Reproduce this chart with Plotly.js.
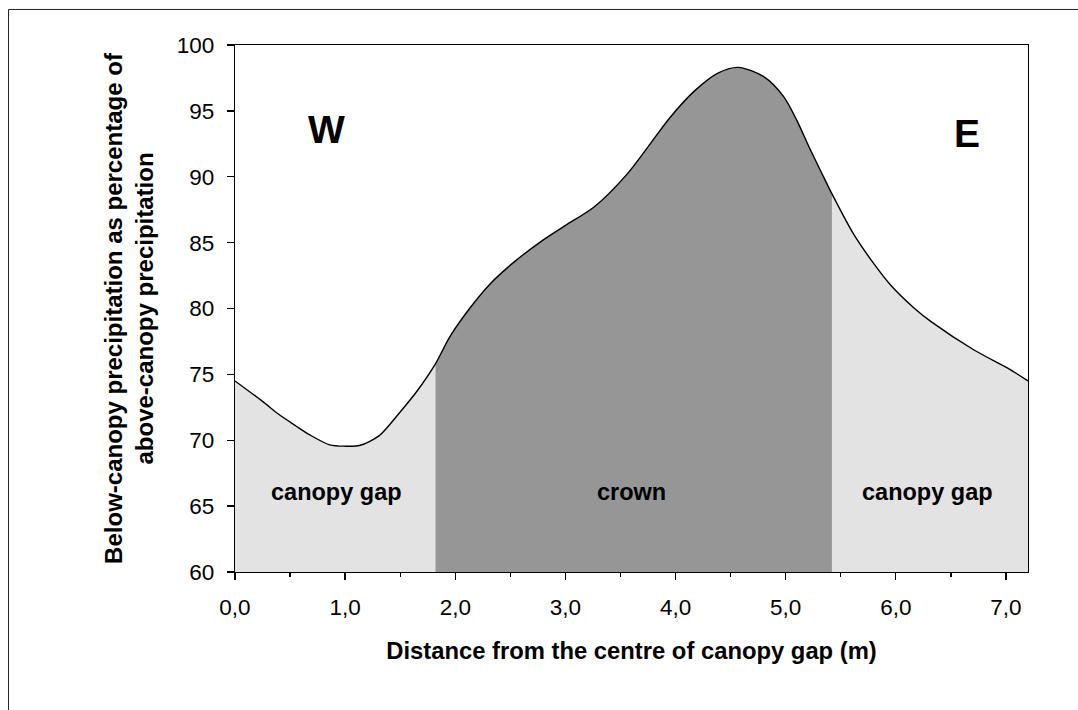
<!DOCTYPE html>
<html>
<head>
<meta charset="utf-8">
<script src="https://cdn.plot.ly/plotly-3.0.1.min.js"></script>
<style>html,body{margin:0;padding:0;background:#fff;}#chart{width:1078px;height:710px;}</style>
</head>
<body>
<div id="chart"></div>
<script>
// Distance from centre of canopy gap (m)
const distance = [0.0, 0.25, 0.4, 0.55, 0.68, 0.86, 1.0, 1.13, 1.31, 1.49, 1.65, 1.82,
  1.95, 2.13, 2.32, 2.53, 2.78, 2.98, 3.26, 3.56, 3.77, 3.95, 4.17, 4.38, 4.57, 4.8,
  4.98, 5.1, 5.21, 5.32, 5.42, 5.62, 5.8, 5.95, 6.17, 6.32, 6.71, 7.02, 7.2];
// Below-canopy precipitation as % of above-canopy precipitation
const percentage = [74.5, 72.95, 71.95, 71.1, 70.4, 69.65, 69.55, 69.6, 70.35, 72.05, 73.7, 75.8,
  77.85, 80.0, 81.9, 83.5, 85.1, 86.2, 87.7, 90.2, 92.5, 94.5, 96.5, 97.85, 98.3, 97.6,
  96.1, 94.3, 92.3, 90.4, 88.7, 85.6, 83.4, 81.8, 80.0, 79.0, 76.85, 75.45, 74.5];
// Zone boundaries (m)
const crownStart = 1.82;
const crownEnd = 5.42;
const zoneLabels = ["canopy gap", "crown", "canopy gap"];
const zoneLabelX = [0.92, 3.6, 6.29];
const zoneLabelY = [66.1, 66.1, 66.1];
const sideLabels = ["W", "E"];
const sideLabelX = [0.83, 6.65];
const sideLabelY = [93.6, 93.3];
const xTicks = [0, 1, 2, 3, 4, 5, 6, 7];
const yTicks = [60, 65, 70, 75, 80, 85, 90, 95, 100];
const yTitle = "Below-canopy precipitation as percentage of<br>above-canopy precipitation";
const xTitle = "Distance from the centre of canopy gap (m)";

function segment(lo, hi) {
  const xs = [], ys = [];
  distance.forEach((d, i) => { if (d >= lo && d <= hi) { xs.push(d); ys.push(percentage[i]); } });
  return {x: xs, y: ys};
}
const gapW = segment(0, crownStart);
const crown = segment(crownStart, crownEnd);
const gapE = segment(crownEnd, 7.2);

const FONT = "Arial, 'Liberation Sans', sans-serif";
const SMOOTH = 0.8;

function fillTrace(seg, color) {
  return {x: seg.x, y: seg.y, type: 'scatter', mode: 'lines', fill: 'tozeroy',
    fillcolor: color, line: {width: 0, shape: 'spline', smoothing: SMOOTH}, hoverinfo: 'skip', showlegend: false};
}

const data = [
  fillTrace(gapW, '#e3e3e3'),
  fillTrace(crown, '#969696'),
  fillTrace(gapE, '#e3e3e3'),
  {x: distance, y: percentage, type: 'scatter', mode: 'lines',
   line: {color: '#000', width: 1.4, shape: 'spline', smoothing: SMOOTH}, showlegend: false}
];

const annotations = [];
zoneLabels.forEach((t, i) => annotations.push({x: zoneLabelX[i], y: zoneLabelY[i], xref: 'x', yref: 'y',
  text: t, showarrow: false, xanchor: 'center', yanchor: 'middle',
  font: {family: FONT, size: 23.5, color: '#000', weight: 'bold'}}));
sideLabels.forEach((t, i) => annotations.push({x: sideLabelX[i], y: sideLabelY[i], xref: 'x', yref: 'y',
  text: t, showarrow: false, xanchor: 'center', yanchor: 'middle',
  font: {family: FONT, size: 39, color: '#000', weight: 'bold'}}));

const layout = {
  width: 1078, height: 710,
  margin: {l: 235, r: 50, t: 45, b: 138},
  paper_bgcolor: '#fff', plot_bgcolor: '#fff',
  separators: ',.',
  font: {family: FONT, color: '#000'},
  showlegend: false,
  xaxis: {
    range: [0, 7.2], tickvals: xTicks, tickformat: '.1f',
    ticks: 'outside', ticklen: 7, tickwidth: 1.3, tickcolor: '#000',
    minor: {dtick: 0.5, tick0: 0, ticks: 'outside', ticklen: 4, tickwidth: 1.3, tickcolor: '#000', showgrid: false},
    showline: true, linecolor: '#000', linewidth: 1.3, mirror: true,
    showgrid: false, zeroline: false, fixedrange: true,
    tickfont: {family: FONT, size: 22.5, color: '#000'}, ticklabelstandoff: 8,
    title: {text: xTitle, standoff: 23,
      font: {family: FONT, size: 23.8, color: '#000', weight: 'bold'}}
  },
  yaxis: {
    range: [60, 100], tickvals: yTicks,
    ticks: 'outside', ticklen: 7, tickwidth: 1.3, tickcolor: '#000',
    showline: true, linecolor: '#000', linewidth: 1.3, mirror: true,
    showgrid: false, zeroline: false, fixedrange: true,
    tickfont: {family: FONT, size: 22.5, color: '#000'}, ticklabelstandoff: 8,
    title: {text: yTitle, standoff: 16,
      font: {family: FONT, size: 24, color: '#000', weight: 'bold'}}
  },
  annotations: annotations,
  shapes: [{type: 'rect', xref: 'paper', yref: 'paper', x0: -0.2856, x1: 1.3, y0: -0.6, y1: 1.0674,
    line: {color: '#222', width: 1}, fillcolor: 'rgba(0,0,0,0)', layer: 'below'}]
};

Plotly.newPlot('chart', data, layout, {displayModeBar: false, staticPlot: true});
</script>
</body>
</html>
